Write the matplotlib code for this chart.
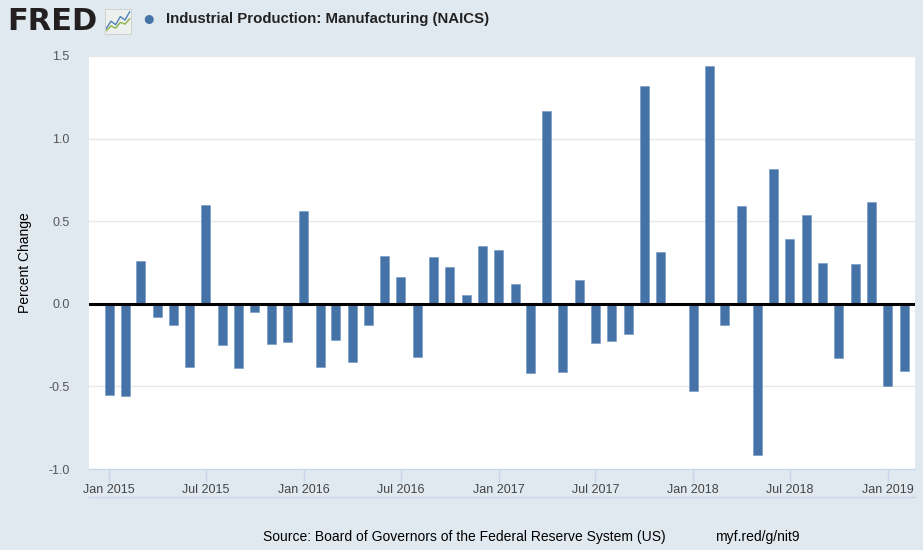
import matplotlib
matplotlib.use("Agg")
import matplotlib.pyplot as plt
import matplotlib.dates as mdates
import numpy as np
import pandas as pd

plt.rcParams['font.family'] = ['Liberation Sans', 'DejaVu Sans']

# monthly percent change, Jan 2015 - Feb 2019
months = pd.date_range('2015-01-01', '2019-02-01', freq='MS')
pct_change = [
    -0.55, -0.56, 0.26, -0.08, -0.13, -0.38, 0.60, -0.25, -0.39, -0.05, -0.245, -0.23,
    0.56, -0.38, -0.22, -0.355, -0.13, 0.29, 0.16, -0.32, 0.285, 0.22, 0.055, 0.35,
    0.325, 0.12, -0.42, 1.165, -0.41, 0.145, -0.235, -0.225, -0.18, 1.32, 0.313, 0.0,
    -0.53, 1.44, -0.13, 0.59, -0.915, 0.815, 0.39, 0.54, 0.247, -0.327, 0.24, 0.617,
    -0.50, -0.405,
]
tick_dates = pd.date_range('2015-01-01', '2019-01-01', freq='6MS')
tick_labels = [d.strftime('%b %Y') for d in tick_dates]
y_ticks = [-1.0, -0.5, 0.0, 0.5, 1.0, 1.5]

bg = '#e1e9f0'
bar_col = '#4572a7'

fig = plt.figure(figsize=(9.23, 5.5), dpi=100)
fig.patch.set_facecolor(bg)
W, H = 923, 550
ax = fig.add_axes([89 / W, 1 - 469 / H, (915 - 89) / W, (469 - 56) / H])
ax.set_facecolor('white')

ax.bar(months, pct_change, width=16.5, color=bar_col, edgecolor='#6f95c4', linewidth=0.4, zorder=3)
ax.axhline(0, color='black', linewidth=2.2, zorder=4)

ax.set_ylim(-1.0, 1.5)
ax.set_yticks(y_ticks)
ax.set_yticklabels([f'{v:.1f}' for v in y_ticks], color='#555555', fontsize=9)
ax.grid(axis='y', color='#e8e8e8', linewidth=1, zorder=0)

ax.set_xlim(pd.Timestamp('2014-11-24'), pd.Timestamp('2019-02-21'))
ax.set_xticks(tick_dates)
ax.set_xticklabels(tick_labels, color='#444444', fontsize=9)
ax.tick_params(axis='x', length=9, color='#c8d6ea', width=1, pad=2)
ax.tick_params(axis='y', length=0, pad=14)

for s in ax.spines.values():
    s.set_visible(False)
ax.spines['bottom'].set_visible(True)
ax.spines['bottom'].set_color('#c8d6ea')

ax.set_ylabel('Percent Change', fontsize=10, color='black', labelpad=12)

# line under the tick labels
fig.add_artist(plt.Line2D([89 / W, 915 / W], [1 - 497 / H, 1 - 497 / H], color='#c8d6ea', linewidth=1))

# header
fig.text(7 / W, 1 - 22 / H, 'FRED', fontsize=22, fontweight='bold', family='DejaVu Sans',
         color='#231f20', va='center', ha='left')
icon = fig.add_axes([105 / W, 1 - 34 / H, 26 / W, 25 / H])
icon.set_facecolor('#eef0ee')
icon_x = [0, 1, 2, 3, 4, 5]
icon.plot(icon_x, [1.0, 2.2, 1.6, 3.0, 2.4, 3.8], color='#4f81bd', linewidth=1)
icon.plot(icon_x, [0.6, 1.4, 1.0, 2.0, 1.7, 2.6], color='#8db24a', linewidth=1)
icon.set_xlim(-0.3, 5.3)
icon.set_ylim(0, 4.3)
icon.set_xticks([])
icon.set_yticks([])
for s in icon.spines.values():
    s.set_color('#c9cfc9')
    s.set_linewidth(0.6)

fig.text(149 / W, 1 - 19 / H, '\u25cf', fontsize=15, color=bar_col, va='center', ha='center')
fig.text(166 / W, 1 - 19 / H, 'Industrial Production: Manufacturing (NAICS)',
         fontsize=10.8, fontweight='bold', color='#222222', va='center', ha='left')

# footer
fig.text(263 / W, 1 - 537 / H, 'Source: Board of Governors of the Federal Reserve System (US)',
         fontsize=10, color='black', va='center', ha='left')
fig.text(715 / W, 1 - 537 / H, 'myf.red/g/nit9', fontsize=10, color='black', va='center', ha='left')

fig.savefig('out.png', dpi=100, facecolor=bg)
